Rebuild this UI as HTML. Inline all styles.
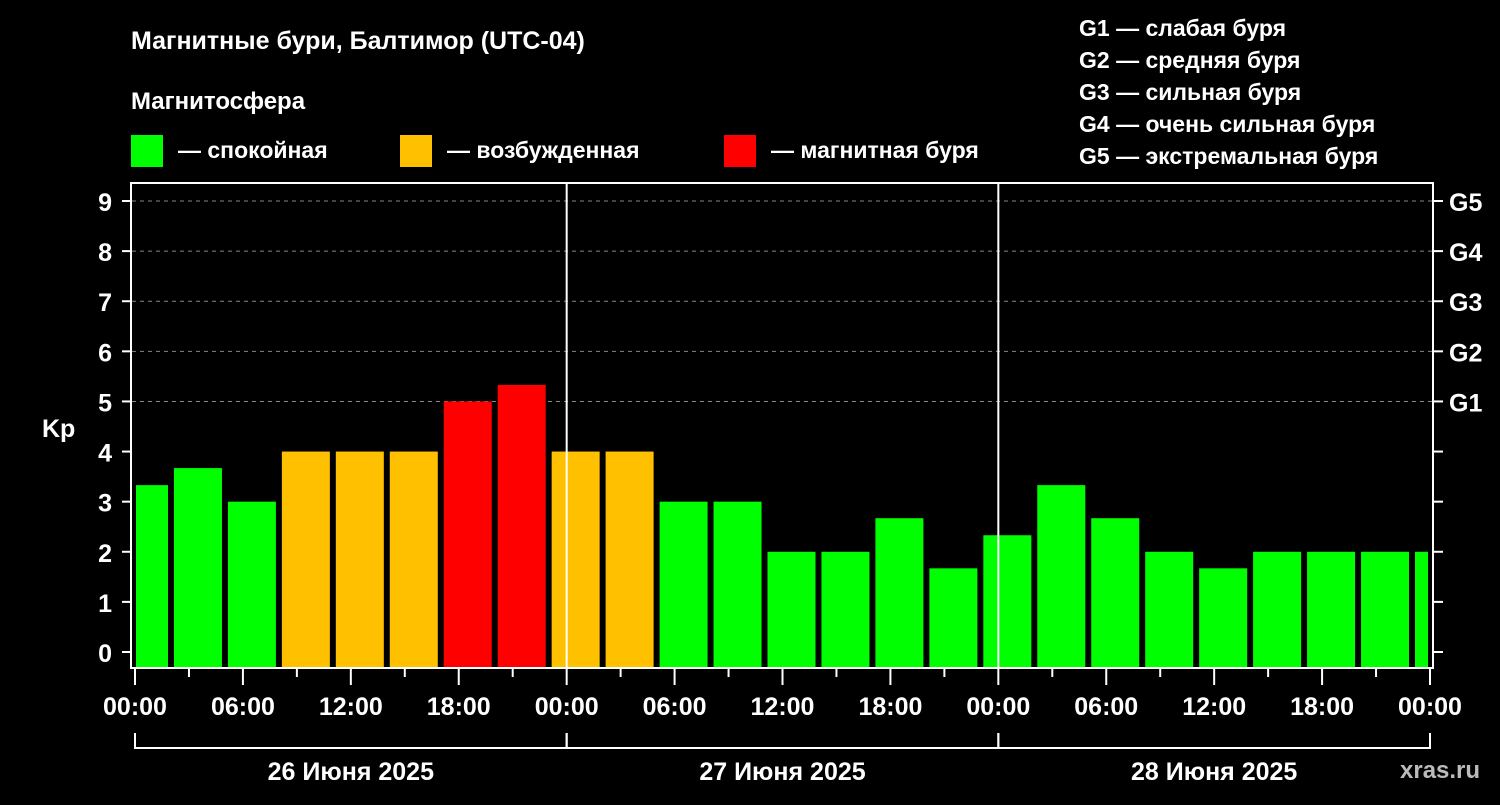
<!DOCTYPE html>
<html><head><meta charset="utf-8"><style>
body{margin:0;background:#000;width:1500px;height:800px;overflow:hidden}
svg text{font-family:"Liberation Sans",sans-serif;font-weight:bold;fill:#fff}
</style></head><body>
<svg id="c" width="1500" height="800" xmlns="http://www.w3.org/2000/svg">
<text x="131" y="49" font-size="25">Магнитные бури, Балтимор (UTC-04)</text>
<text x="131" y="109" font-size="24">Магнитосфера</text>
<g>
<rect x="131" y="135" width="32" height="32" fill="#00ff00"/>
<text x="178" y="158" font-size="23">— спокойная</text>
<rect x="400" y="135" width="32" height="32" fill="#ffc000"/>
<text x="447" y="158" font-size="23">— возбужденная</text>
<rect x="724" y="135" width="32" height="32" fill="#ff0000"/>
<text x="771" y="158" font-size="23">— магнитная буря</text>
</g>
<g font-size="23">
<text x="1079" y="36">G1 — слабая буря</text>
<text x="1079" y="68">G2 — средняя буря</text>
<text x="1079" y="100">G3 — сильная буря</text>
<text x="1079" y="132">G4 — очень сильная буря</text>
<text x="1079" y="164">G5 — экстремальная буря</text>
</g>
<text x="42" y="437" font-size="25">Kp</text>
<text x="1400" y="778" font-size="24" fill="#bbb" style="fill:#bbb">xras.ru</text>
<g id="grid"></g><g id="bars"></g><g id="axes"></g>
</svg>
<script>
const kpValues=[3.33,3.67,3,4,4,4,5,5.33,4,4,3,3,2,2,2.67,1.67,2.33,3.33,2.67,2,1.67,2,2,2,2];
const yTicks=[0,1,2,3,4,5,6,7,8,9];
const gLabels=["G1","G2","G3","G4","G5"];
const gLevels=[5,6,7,8,9];
const xLabels=["00:00","06:00","12:00","18:00","00:00","06:00","12:00","18:00","00:00","06:00","12:00","18:00","00:00"];
const dayLabels=["26 Июня 2025","27 Июня 2025","28 Июня 2025"];
const NS="http://www.w3.org/2000/svg";
const X0=135,X1=1430,HOURS=72;
const x=h=>X0+(X1-X0)*h/HOURS;
const y=v=>652-(652-201)*v/9;
function mk(tag,attrs,parent){const e=document.createElementNS(NS,tag);for(const k in attrs)e.setAttribute(k,attrs[k]);document.getElementById(parent).appendChild(e);return e;}
// clip
const defs=document.createElementNS(NS,"defs");defs.innerHTML='<clipPath id="cp"><rect x="136" y="183" width="1292" height="485"/></clipPath>';document.getElementById("c").appendChild(defs);
document.getElementById("bars").setAttribute("clip-path","url(#cp)");
// grid
gLevels.forEach((v,i)=>{
 const l=mk("line",{x1:132,x2:1433,y1:y(v),y2:y(v),stroke:"#888","stroke-dasharray":"4,4","stroke-width":1},"grid");
 
 
 const t=mk("text",{x:1449,y:y(v)+10,"font-size":25},"axes");t.textContent=gLabels[i];
 
 
});
// bars
const colorFor=v=>v>=5?"#ff0000":(v>=4?"#ffc000":"#00ff00");
kpValues.forEach((v,i)=>{
 const c=i*3+0.5;
 const r=mk("rect",{x:x(c)-24,y:y(v),width:48,height:668-y(v),fill:colorFor(v)},"bars");
 
 
});
// axes box
const box=mk("rect",{x:131,y:183,width:1302,height:485,fill:"none",stroke:"#fff","stroke-width":2},"axes");


[24,48].forEach(h=>{
 const l=mk("line",{x1:x(h),x2:x(h),y1:183,y2:668,stroke:"#fff","stroke-width":2},"axes");
 
 
});
yTicks.forEach(v=>{
 mk("line",{x1:122,x2:131,y1:y(v),y2:y(v),stroke:"#fff","stroke-width":2},"axes");
 mk("line",{x1:1433,x2:1443,y1:y(v),y2:y(v),stroke:"#fff","stroke-width":2},"axes");
 const t=mk("text",{x:112,y:y(v)+10,"font-size":25,"text-anchor":"end"},"axes");t.textContent=v;
 
 
});
for(let h=0;h<=72;h+=3){
 const major=h%6===0;
 mk("line",{x1:x(h),x2:x(h),y1:668,y2:major?685:677,stroke:"#fff","stroke-width":2},"axes");
}
xLabels.forEach((s,i)=>{
 const t=mk("text",{x:x(i*6),y:715,"font-size":25,"text-anchor":"middle"},"axes");t.textContent=s;
 
 
});
dayLabels.forEach((s,i)=>{
 const a=x(i*24),b=x(i*24+24);
 mk("path",{d:`M${a} 733V748H${b}V733`,fill:"none",stroke:"#fff","stroke-width":2},"axes");
 const t=mk("text",{x:(a+b)/2,y:780,"font-size":25,"text-anchor":"middle"},"axes");t.textContent=s;
 
 
});
</script>
</body></html>
